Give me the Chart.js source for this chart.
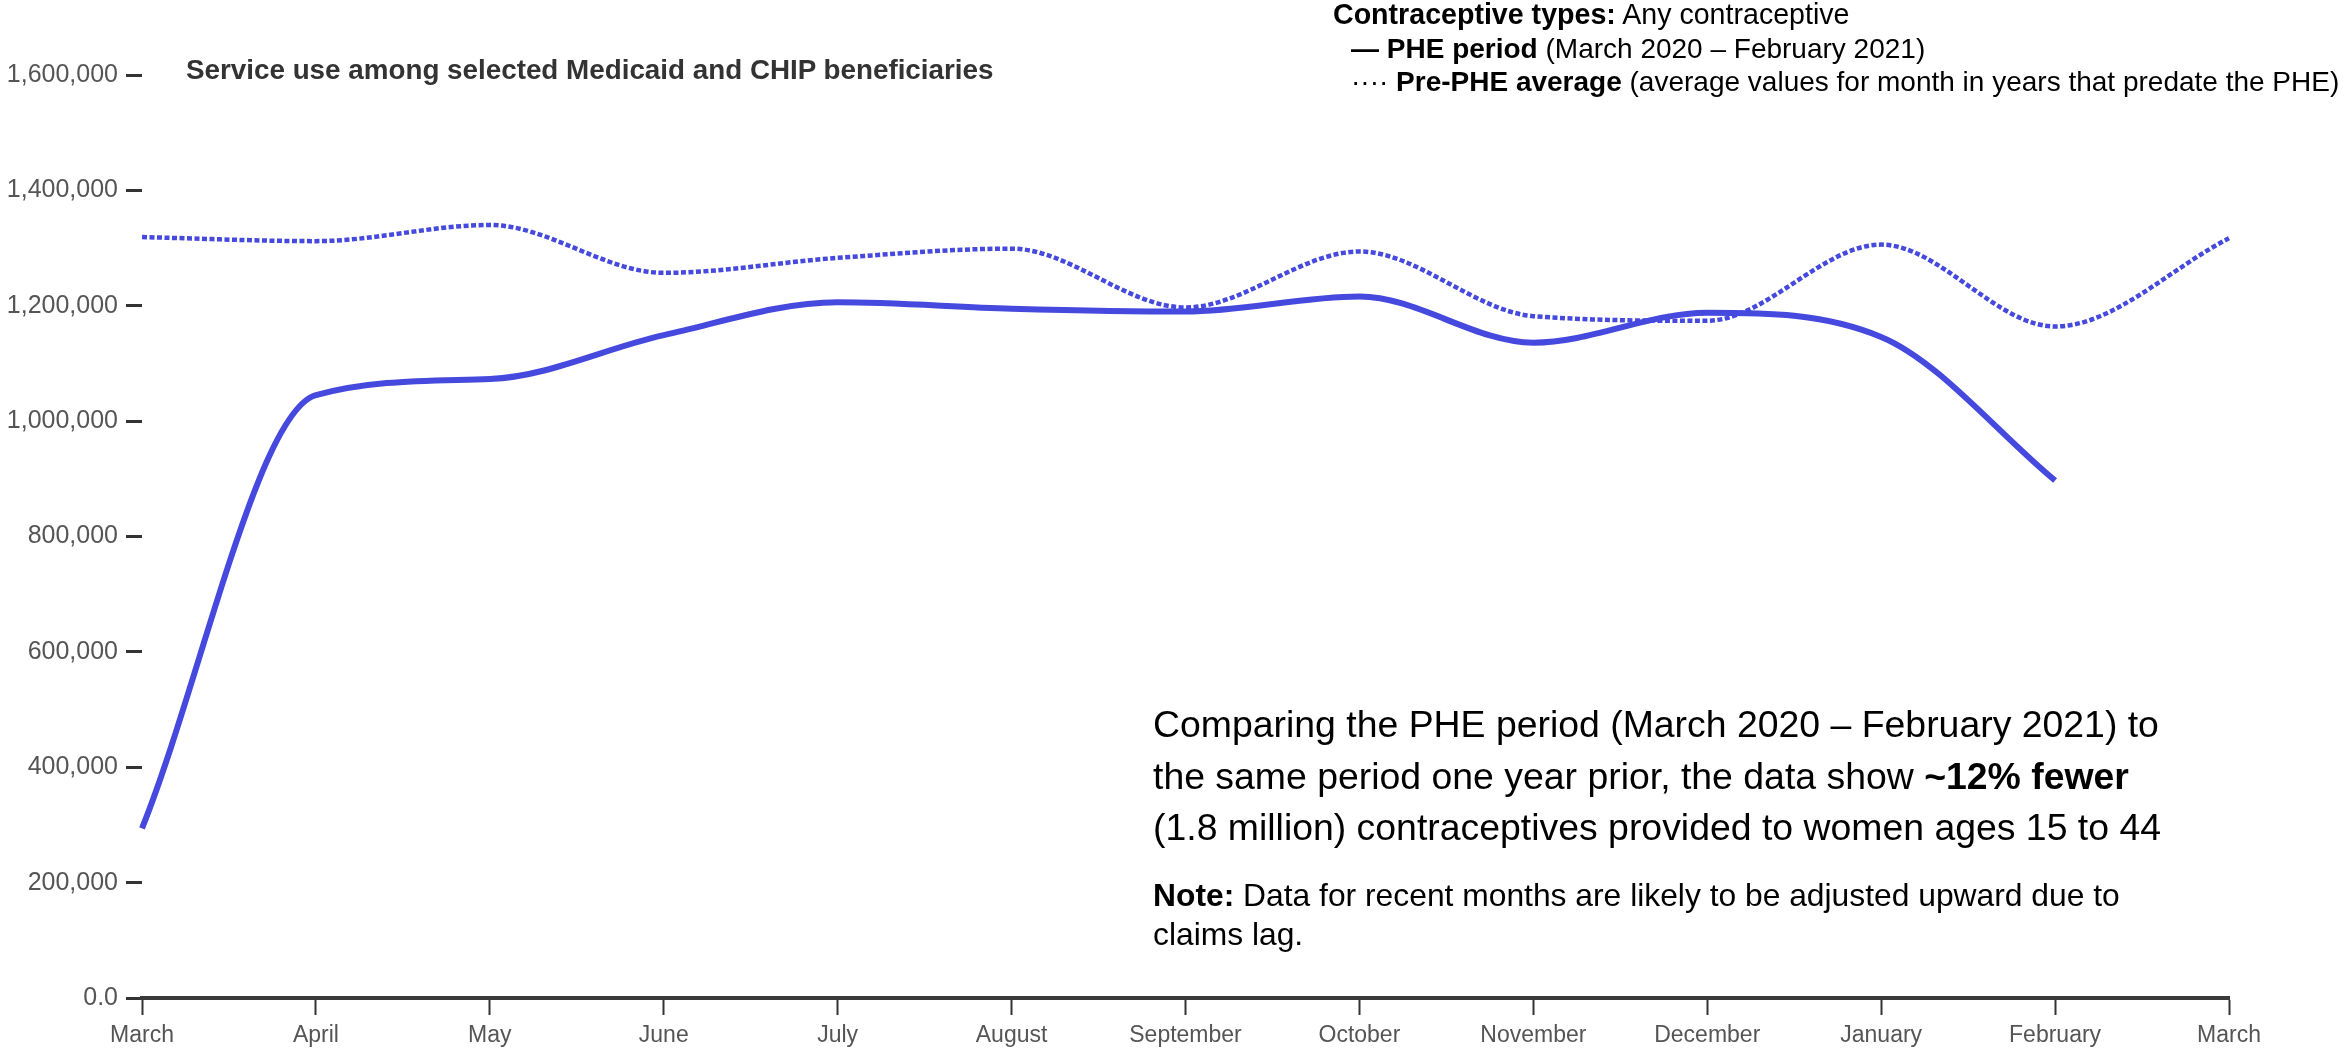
<!DOCTYPE html>
<html>
<head>
<meta charset="utf-8">
<title>Contraceptive service use</title>
<script src="https://cdn.jsdelivr.net/npm/chart.js@4.4.0/dist/chart.umd.min.js"></script>
<style>
  body { margin: 0; background: #fff; font-family: "Liberation Sans", Arial, sans-serif; }
  #wrap { position: relative; width: 2349px; height: 1052px; overflow: hidden; }
  #chart { position: absolute; left: 0; top: 0; }
  .txt { position: absolute; white-space: nowrap; }
  #title { left: 186px; top: 55px; font-size: 27.8px; line-height: 30px; font-weight: bold; color: #333; }
  #legend { left: 1333px; top: -2px; font-size: 28px; line-height: 33.5px; color: #000; }
  #legend .first { font-size: 28.6px; }
  #legend .ind { padding-left: 18px; }
  #comment { left: 1153px; top: 699px; font-size: 37.4px; line-height: 51.5px; color: #000; }
  #note { left: 1153px; top: 876px; font-size: 31.8px; line-height: 39px; color: #000; }
</style>
</head>
<body>
<div id="wrap">
  <canvas id="chart" width="2349" height="1052"></canvas>
  <div class="txt" id="title">Service use among selected Medicaid and CHIP beneficiaries</div>
  <div class="txt" id="legend">
    <div class="first"><b>Contraceptive types:</b> Any contraceptive</div>
    <div class="ind"><b>—</b> <b>PHE period</b> (March 2020 – February 2021)</div>
    <div class="ind">···· <b>Pre-PHE average</b> (average values for month in years that predate the PHE)</div>
  </div>
  <div class="txt" id="comment">
    Comparing the PHE period (March 2020 – February 2021) to<br>
    the same period one year prior, the data show <b>~12% fewer</b><br>
    (1.8 million) contraceptives provided to women ages 15 to 44
  </div>
  <div class="txt" id="note">
    <b>Note:</b> Data for recent months are likely to be adjusted upward due to<br>
    claims lag.
  </div>
</div>
<script>
// meses del eje x (marzo a marzo)
const months = ['March', 'April', 'May', 'June', 'July', 'August', 'September',
  'October', 'November', 'December', 'January', 'February', 'March'];

// periodo PHE (marzo 2020 - febrero 2021)
const phePeriod = [294000, 1045000, 1073000, 1149000, 1206000, 1195000,
  1190000, 1216000, 1136000, 1188000, 1146000, 897000];

// promedio pre-PHE
const prePheAverage = [1319000, 1312000, 1340000, 1257000, 1283000, 1299000,
  1197000, 1294000, 1182000, 1174000, 1306000, 1164000, 1317000];

const yMax = 1600000;
const yStep = 200000;

const lineColor = '#4649dd';
const tickFont = { family: '"Liberation Sans", Arial, sans-serif', size: 25 };

const ctx = document.getElementById('chart').getContext('2d');
window.miGrafica = new Chart(ctx, {
  type: 'line',
  data: {
    labels: months,
    datasets: [
      {
        label: 'PHE period',
        data: phePeriod,
        borderColor: lineColor,
        borderWidth: 6,
        pointRadius: 0,
        cubicInterpolationMode: 'monotone',
        fill: false
      },
      {
        label: 'Pre-PHE average',
        data: prePheAverage,
        borderColor: lineColor,
        borderWidth: 4.5,
        borderDash: [5, 2.5],
        pointRadius: 0,
        cubicInterpolationMode: 'monotone',
        fill: false
      }
    ]
  },
  options: {
    responsive: false,
    animation: false,
    devicePixelRatio: 1,
    layout: { padding: { top: 75, right: 120, bottom: 0, left: 0 } },
    plugins: {
      legend: { display: false },
      tooltip: { enabled: false }
    },
    scales: {
      x: {
        type: 'category',
        offset: false,
        grid: {
          drawOnChartArea: false,
          tickLength: 17,
          tickWidth: 2,
          tickColor: '#333'
        },
        border: { display: true, color: '#3a3a3a', width: 4 },
        ticks: {
          color: '#555',
          font: { ...tickFont, size: 23 },
          padding: 7,
          maxRotation: 0,
          autoSkip: false
        },
        afterFit: scale => { scale.height = 54; }
      },
      y: {
        min: 0,
        max: yMax,
        grid: {
          drawOnChartArea: false,
          tickLength: 16,
          tickWidth: 3,
          tickColor: '#333'
        },
        border: { display: false },
        ticks: {
          stepSize: yStep,
          color: '#555',
          font: tickFont,
          padding: 8,
          callback: v => v === 0 ? '0.0' : v.toLocaleString('en-US')
        },
        afterFit: scale => { scale.width = 142; }
      }
    }
  }
});
</script>
</body>
</html>
